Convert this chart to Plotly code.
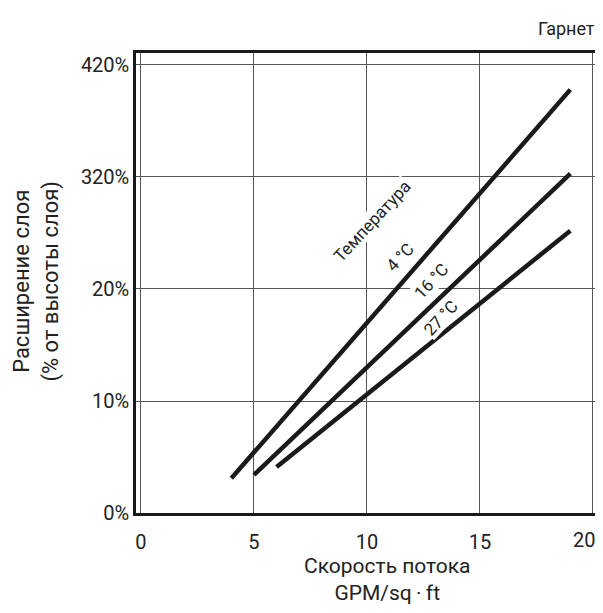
import plotly.graph_objects as go

# Data (y in axis-position units: 0..4 correspond to tick labels below)
flow_4c = [4, 19]
exp_4c = [0.31, 3.78]
flow_16c = [5, 19]
exp_16c = [0.34, 3.03]
flow_27c = [6, 19]
exp_27c = [0.41, 2.52]

x_tickvals = [0, 5, 10, 15, 20]
x_ticktext = ["0", "5", "10", "15", "20"]
y_tickvals = [0, 1, 2, 3, 4]
y_ticktext = ["0%", "10%", "20%", "320%", "420%"]

label_texts = ["Температура", "4 °C", "16 °C", "27 °C"]
label_x = [10.22, 11.46, 12.85, 13.25]
label_y = [2.61, 2.29, 2.07, 1.745]

FONT = "Roboto, Liberation Sans, sans-serif"
TXT = "#222222"

fig = go.Figure()
for xs, ys, name in [(flow_4c, exp_4c, "4 °C"), (flow_16c, exp_16c, "16 °C"), (flow_27c, exp_27c, "27 °C")]:
    fig.add_trace(go.Scatter(x=xs, y=ys, mode="lines", name=name,
                             line=dict(color="#1a1a1a", width=4.5), showlegend=False))

annotations = []
for t, ax_, ay_ in zip(label_texts, label_x, label_y):
    annotations.append(dict(x=ax_, y=ay_, xref="x", yref="y", text=t, showarrow=False,
                            textangle=-47, font=dict(family=FONT, size=17, color=TXT),
                            bgcolor="white", xanchor="center", yanchor="middle", borderpad=0))

# last x tick label drawn as right-anchored text so it stays inside the page
annotations.append(dict(x=1.0, y=-0.059, xref="paper", yref="paper",
                        text=x_ticktext[-1], showarrow=False,
                        font=dict(family=FONT, size=20, color=TXT),
                        xanchor="right", yanchor="middle"))

annotations.append(dict(x=-0.215, y=0.505, xref="paper", yref="paper",
                        text="Расширение слоя<br>(% от высоты слоя)", showarrow=False,
                        textangle=-90, font=dict(family=FONT, size=22, color=TXT),
                        xanchor="center", yanchor="middle"))
annotations.append(dict(x=0.545, y=-0.1435, xref="paper", yref="paper",
                        text="Скорость потока<br>GPM/sq\u2009·\u2009ft", showarrow=False,
                        font=dict(family=FONT, size=21, color=TXT),
                        xanchor="center", yanchor="middle"))
annotations.append(dict(x=1.0, y=1.054, xref="paper", yref="paper",
                        text="Гарнет", showarrow=False,
                        font=dict(family=FONT, size=18, color=TXT),
                        xanchor="right", yanchor="middle"))

fig.update_layout(
    width=595, height=597,
    margin=dict(l=128, r=6, t=45, b=92, autoexpand=False),
    paper_bgcolor="white", plot_bgcolor="white",
    font=dict(family=FONT, size=19, color=TXT),
    annotations=annotations,
)
fig.update_xaxes(range=[-0.22, 20.18], tickvals=x_tickvals,
                 ticktext=x_ticktext[:-1] + [""], showgrid=True, automargin=False,
                 gridcolor="#555555", gridwidth=1, zeroline=False,
                 showline=True, linecolor="#1a1a1a", linewidth=2.5, mirror=True,
                 ticks="", ticklabelstandoff=9, ticklabeloverflow="allow",
                 tickfont=dict(family=FONT, size=20, color=TXT))
fig.update_yaxes(range=[0, 4.107], tickvals=y_tickvals, ticktext=y_ticktext, automargin=False,
                 showgrid=True, gridcolor="#555555", gridwidth=1, zeroline=False,
                 showline=True, linecolor="#1a1a1a", linewidth=2.5, mirror=True,
                 ticks="", ticklabelstandoff=0, ticklabeloverflow="allow",
                 tickfont=dict(family=FONT, size=20, color=TXT))

fig.write_html("out.html")
